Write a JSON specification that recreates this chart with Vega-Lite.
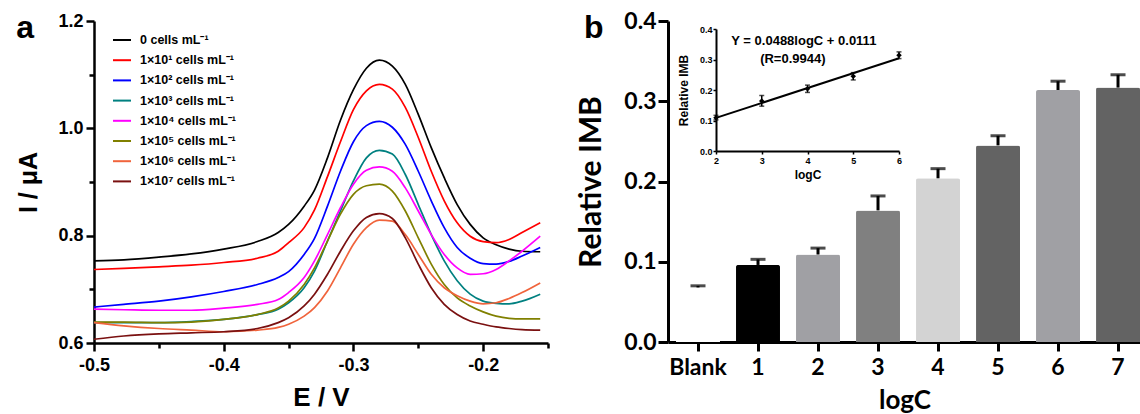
{
"$schema": "https://vega.github.io/schema/vega-lite/v6.json",
"background": "white",
"padding": {"left": 16, "top": 10, "right": 0, "bottom": 0},
"autosize": {"type": "pad"},
"bounds": "flush",
"spacing": 120,
"config": {
  "view": {"stroke": null},
  "font": "Liberation Sans",
  "axis": {"grid": false, "domain": true, "ticks": true, "domainColor": "#000000", "tickColor": "#000000", "labelColor": "#000000", "titleColor": "#000000", "labelFontWeight": "bold", "titleFontWeight": "bold", "labelFont": "Liberation Sans", "titleFont": "Liberation Sans", "labelFlush": false, "labelOverlap": false}
},
"resolve": {"scale": {"color": "independent"}, "legend": {"color": "independent"}},
"datasets": {
  "cv": [
{"k":"0","E":-0.5,"I":0.753},{"k":"0","E":-0.477,"I":0.755},{"k":"0","E":-0.45,"I":0.76},{"k":"0","E":-0.425,"I":0.766},{"k":"0","E":-0.4,"I":0.775},{"k":"0","E":-0.374,"I":0.789},{"k":"0","E":-0.358,"I":0.806},{"k":"0","E":-0.35,"I":0.821},{"k":"0","E":-0.338,"I":0.855},{"k":"0","E":-0.33,"I":0.885},{"k":"0","E":-0.32,"I":0.945},{"k":"0","E":-0.31,"I":1.015},{"k":"0","E":-0.3,"I":1.072},{"k":"0","E":-0.29,"I":1.112},{"k":"0","E":-0.28,"I":1.127},{"k":"0","E":-0.27,"I":1.116},{"k":"0","E":-0.26,"I":1.082},{"k":"0","E":-0.25,"I":1.026},{"k":"0","E":-0.24,"I":0.964},{"k":"0","E":-0.23,"I":0.908},{"k":"0","E":-0.22,"I":0.858},{"k":"0","E":-0.21,"I":0.821},{"k":"0","E":-0.2,"I":0.796},{"k":"0","E":-0.19,"I":0.783},{"k":"0","E":-0.18,"I":0.775},{"k":"0","E":-0.17,"I":0.771},{"k":"0","E":-0.156,"I":0.77},
{"k":"1","E":-0.5,"I":0.737},{"k":"1","E":-0.477,"I":0.739},{"k":"1","E":-0.45,"I":0.742},{"k":"1","E":-0.425,"I":0.745},{"k":"1","E":-0.4,"I":0.75},{"k":"1","E":-0.374,"I":0.758},{"k":"1","E":-0.358,"I":0.771},{"k":"1","E":-0.35,"I":0.787},{"k":"1","E":-0.338,"I":0.815},{"k":"1","E":-0.33,"I":0.848},{"k":"1","E":-0.32,"I":0.91},{"k":"1","E":-0.31,"I":0.975},{"k":"1","E":-0.3,"I":1.035},{"k":"1","E":-0.29,"I":1.07},{"k":"1","E":-0.28,"I":1.082},{"k":"1","E":-0.27,"I":1.073},{"k":"1","E":-0.26,"I":1.039},{"k":"1","E":-0.25,"I":0.983},{"k":"1","E":-0.24,"I":0.92},{"k":"1","E":-0.23,"I":0.865},{"k":"1","E":-0.22,"I":0.824},{"k":"1","E":-0.21,"I":0.799},{"k":"1","E":-0.2,"I":0.789},{"k":"1","E":-0.19,"I":0.787},{"k":"1","E":-0.18,"I":0.793},{"k":"1","E":-0.17,"I":0.806},{"k":"1","E":-0.156,"I":0.824},
{"k":"2","E":-0.5,"I":0.667},{"k":"2","E":-0.477,"I":0.672},{"k":"2","E":-0.45,"I":0.678},{"k":"2","E":-0.425,"I":0.686},{"k":"2","E":-0.4,"I":0.696},{"k":"2","E":-0.374,"I":0.709},{"k":"2","E":-0.358,"I":0.722},{"k":"2","E":-0.35,"I":0.733},{"k":"2","E":-0.338,"I":0.765},{"k":"2","E":-0.33,"I":0.795},{"k":"2","E":-0.32,"I":0.855},{"k":"2","E":-0.31,"I":0.92},{"k":"2","E":-0.3,"I":0.975},{"k":"2","E":-0.29,"I":1.005},{"k":"2","E":-0.28,"I":1.013},{"k":"2","E":-0.27,"I":1.002},{"k":"2","E":-0.26,"I":0.97},{"k":"2","E":-0.25,"I":0.92},{"k":"2","E":-0.24,"I":0.865},{"k":"2","E":-0.23,"I":0.815},{"k":"2","E":-0.22,"I":0.778},{"k":"2","E":-0.21,"I":0.758},{"k":"2","E":-0.2,"I":0.748},{"k":"2","E":-0.19,"I":0.747},{"k":"2","E":-0.18,"I":0.752},{"k":"2","E":-0.17,"I":0.762},{"k":"2","E":-0.156,"I":0.778},
{"k":"3","E":-0.5,"I":0.638},{"k":"3","E":-0.477,"I":0.638},{"k":"3","E":-0.45,"I":0.638},{"k":"3","E":-0.425,"I":0.64},{"k":"3","E":-0.4,"I":0.644},{"k":"3","E":-0.374,"I":0.653},{"k":"3","E":-0.358,"I":0.663},{"k":"3","E":-0.35,"I":0.675},{"k":"3","E":-0.338,"I":0.703},{"k":"3","E":-0.33,"I":0.734},{"k":"3","E":-0.32,"I":0.79},{"k":"3","E":-0.31,"I":0.846},{"k":"3","E":-0.3,"I":0.902},{"k":"3","E":-0.29,"I":0.945},{"k":"3","E":-0.28,"I":0.959},{"k":"3","E":-0.27,"I":0.952},{"k":"3","E":-0.26,"I":0.914},{"k":"3","E":-0.25,"I":0.858},{"k":"3","E":-0.24,"I":0.802},{"k":"3","E":-0.23,"I":0.753},{"k":"3","E":-0.22,"I":0.716},{"k":"3","E":-0.21,"I":0.691},{"k":"3","E":-0.2,"I":0.678},{"k":"3","E":-0.19,"I":0.674},{"k":"3","E":-0.18,"I":0.673},{"k":"3","E":-0.17,"I":0.678},{"k":"3","E":-0.156,"I":0.691},
{"k":"4","E":-0.5,"I":0.663},{"k":"4","E":-0.477,"I":0.662},{"k":"4","E":-0.45,"I":0.661},{"k":"4","E":-0.425,"I":0.661},{"k":"4","E":-0.4,"I":0.665},{"k":"4","E":-0.374,"I":0.672},{"k":"4","E":-0.358,"I":0.681},{"k":"4","E":-0.35,"I":0.694},{"k":"4","E":-0.338,"I":0.722},{"k":"4","E":-0.33,"I":0.753},{"k":"4","E":-0.32,"I":0.802},{"k":"4","E":-0.31,"I":0.852},{"k":"4","E":-0.3,"I":0.896},{"k":"4","E":-0.29,"I":0.922},{"k":"4","E":-0.28,"I":0.928},{"k":"4","E":-0.27,"I":0.92},{"k":"4","E":-0.26,"I":0.889},{"k":"4","E":-0.25,"I":0.846},{"k":"4","E":-0.24,"I":0.802},{"k":"4","E":-0.23,"I":0.765},{"k":"4","E":-0.22,"I":0.74},{"k":"4","E":-0.21,"I":0.728},{"k":"4","E":-0.2,"I":0.729},{"k":"4","E":-0.19,"I":0.737},{"k":"4","E":-0.18,"I":0.753},{"k":"4","E":-0.17,"I":0.771},{"k":"4","E":-0.156,"I":0.799},
{"k":"5","E":-0.5,"I":0.639},{"k":"5","E":-0.477,"I":0.639},{"k":"5","E":-0.45,"I":0.638},{"k":"5","E":-0.425,"I":0.639},{"k":"5","E":-0.4,"I":0.644},{"k":"5","E":-0.374,"I":0.653},{"k":"5","E":-0.358,"I":0.665},{"k":"5","E":-0.35,"I":0.678},{"k":"5","E":-0.338,"I":0.709},{"k":"5","E":-0.33,"I":0.74},{"k":"5","E":-0.32,"I":0.79},{"k":"5","E":-0.31,"I":0.84},{"k":"5","E":-0.3,"I":0.877},{"k":"5","E":-0.29,"I":0.893},{"k":"5","E":-0.28,"I":0.896},{"k":"5","E":-0.27,"I":0.883},{"k":"5","E":-0.26,"I":0.846},{"k":"5","E":-0.25,"I":0.796},{"k":"5","E":-0.24,"I":0.747},{"k":"5","E":-0.23,"I":0.709},{"k":"5","E":-0.22,"I":0.684},{"k":"5","E":-0.21,"I":0.669},{"k":"5","E":-0.2,"I":0.658},{"k":"5","E":-0.19,"I":0.65},{"k":"5","E":-0.18,"I":0.646},{"k":"5","E":-0.17,"I":0.645},{"k":"5","E":-0.156,"I":0.645},
{"k":"6","E":-0.5,"I":0.638},{"k":"6","E":-0.477,"I":0.632},{"k":"6","E":-0.45,"I":0.627},{"k":"6","E":-0.425,"I":0.624},{"k":"6","E":-0.4,"I":0.621},{"k":"6","E":-0.374,"I":0.624},{"k":"6","E":-0.358,"I":0.629},{"k":"6","E":-0.35,"I":0.635},{"k":"6","E":-0.338,"I":0.65},{"k":"6","E":-0.33,"I":0.666},{"k":"6","E":-0.32,"I":0.697},{"k":"6","E":-0.31,"I":0.74},{"k":"6","E":-0.3,"I":0.784},{"k":"6","E":-0.29,"I":0.815},{"k":"6","E":-0.28,"I":0.829},{"k":"6","E":-0.27,"I":0.827},{"k":"6","E":-0.26,"I":0.802},{"k":"6","E":-0.25,"I":0.765},{"k":"6","E":-0.24,"I":0.728},{"k":"6","E":-0.23,"I":0.703},{"k":"6","E":-0.22,"I":0.688},{"k":"6","E":-0.21,"I":0.678},{"k":"6","E":-0.2,"I":0.673},{"k":"6","E":-0.19,"I":0.675},{"k":"6","E":-0.18,"I":0.683},{"k":"6","E":-0.17,"I":0.694},{"k":"6","E":-0.156,"I":0.712},
{"k":"7","E":-0.5,"I":0.607},{"k":"7","E":-0.477,"I":0.613},{"k":"7","E":-0.45,"I":0.617},{"k":"7","E":-0.425,"I":0.619},{"k":"7","E":-0.4,"I":0.621},{"k":"7","E":-0.374,"I":0.627},{"k":"7","E":-0.358,"I":0.638},{"k":"7","E":-0.35,"I":0.647},{"k":"7","E":-0.338,"I":0.669},{"k":"7","E":-0.33,"I":0.691},{"k":"7","E":-0.32,"I":0.728},{"k":"7","E":-0.31,"I":0.771},{"k":"7","E":-0.3,"I":0.809},{"k":"7","E":-0.29,"I":0.834},{"k":"7","E":-0.28,"I":0.841},{"k":"7","E":-0.27,"I":0.832},{"k":"7","E":-0.26,"I":0.796},{"k":"7","E":-0.25,"I":0.747},{"k":"7","E":-0.24,"I":0.703},{"k":"7","E":-0.23,"I":0.672},{"k":"7","E":-0.22,"I":0.653},{"k":"7","E":-0.21,"I":0.641},{"k":"7","E":-0.2,"I":0.635},{"k":"7","E":-0.19,"I":0.63},{"k":"7","E":-0.18,"I":0.627},{"k":"7","E":-0.17,"I":0.625},{"k":"7","E":-0.156,"I":0.624}
  ],
  "bars": [
{"c":"Blank","n":null,"v":0.068,"lo":0.066,"hi":0.07},
{"c":"1","n":1,"v":0.096,"lo":0.089,"hi":0.103},
{"c":"2","n":2,"v":0.109,"lo":0.102,"hi":0.117},
{"c":"3","n":3,"v":0.164,"lo":0.147,"hi":0.182},
{"c":"4","n":4,"v":0.204,"lo":0.192,"hi":0.216},
{"c":"5","n":5,"v":0.245,"lo":0.233,"hi":0.257},
{"c":"6","n":6,"v":0.314,"lo":0.303,"hi":0.325},
{"c":"7","n":7,"v":0.317,"lo":0.301,"hi":0.333}
  ],
  "fit": [{"x":2,"y":0.1087},{"x":6,"y":0.3039}]
},
"hconcat": [
{
  "width": 454, "height": 322,
  "data": {"name": "cv"},
  "layer": [
    {
      "mark": {"type": "line", "strokeWidth": 1.7, "interpolate": "monotone"},
      "encoding": {
        "x": {"field": "E", "type": "quantitative", "scale": {"domain": [-0.5, -0.15], "nice": false, "zero": false},
              "axis": {"orient": "bottom", "domain": true, "ticks": true, "domainColor": "#000000", "tickColor": "#000000", "values": [-0.5, -0.4, -0.3, -0.2], "labelExpr": "replace(format(datum.value, '.1f'), '\u2212', '-')", "title": "E / V", "titleFontSize": 26, "labelFontSize": 18, "tickSize": 8, "tickWidth": 2.5, "domainWidth": 2.5, "labelPadding": 5, "titlePadding": 10}},
        "y": {"field": "I", "type": "quantitative", "scale": {"domain": [0.6, 1.2], "nice": false, "zero": false},
              "axis": {"orient": "left", "domain": true, "ticks": true, "domainColor": "#000000", "tickColor": "#000000", "values": [0.6, 0.8, 1.0, 1.2], "format": ".1f", "title": "I / μA", "titleFontSize": 25, "labelFontSize": 18, "tickSize": 8, "tickWidth": 2.5, "domainWidth": 2.5, "labelPadding": 3, "titlePadding": 16}},
        "color": {"field": "k", "type": "nominal",
                  "scale": {"domain": ["0","1","2","3","4","5","6","7"], "range": ["#000000","#ff0000","#0000ff","#008080","#ff00ff","#808000","#f0643c","#7a1010"]},
                  "legend": {"title": null, "orient": "none", "legendX": 18, "legendY": 9, "symbolType": "stroke", "symbolSize": 324, "symbolStrokeWidth": 2, "labelFontSize": 12.5, "labelFontWeight": "bold", "labelColor": "black", "labelFont": "Liberation Sans", "rowPadding": 3.2, "labelOffset": 8, "padding": 0,
                             "labelExpr": "['0 cells mL⁻¹','1×10¹ cells mL⁻¹','1×10² cells mL⁻¹','1×10³ cells mL⁻¹','1×10⁴ cells mL⁻¹','1×10⁵ cells mL⁻¹','1×10⁶ cells mL⁻¹','1×10⁷ cells mL⁻¹'][toNumber(datum.value)]"}}
      }
    },
    {
      "mark": {"type": "line", "strokeOpacity": 0},
      "encoding": {
        "x": {"field": "E", "type": "quantitative", "axis": {"orient": "bottom", "values": [-0.45, -0.35, -0.25, -0.15], "labels": false, "domain": false, "ticks": true, "tickColor": "#000000", "title": null, "tickSize": 5, "tickWidth": 2.5}},
        "y": {"field": "I", "type": "quantitative", "axis": {"orient": "left", "values": [0.7, 0.9, 1.1], "labels": false, "domain": false, "ticks": true, "tickColor": "#000000", "title": null, "tickSize": 5, "tickWidth": 2.5}},
        "detail": {"field": "k"}
      }
    },
    {
      "data": {"values": [{}]},
      "mark": {"type": "text", "fontSize": 32, "fontWeight": "bold", "font": "Liberation Sans", "color": "black", "align": "left", "baseline": "alphabetic", "clip": false},
      "encoding": {
        "x": {"datum": -0.56, "type": "quantitative", "axis": null},
        "y": {"datum": 1.168, "type": "quantitative", "axis": null},
        "text": {"value": "a"}
      }
    }
  ],
  "resolve": {"axis": {"x": "independent", "y": "independent"}}
},
{
  "width": 473, "height": 321,
  "layer": [
    {
      "data": {"name": "bars"},
      "encoding": {
        "x": {"field": "c", "type": "nominal", "sort": null, "title": "logC",
              "scale": {"paddingInner": 0.267, "paddingOuter": 0.075, "align": 0.89},
              "axis": {"domain": true, "ticks": true, "domainColor": "#000000", "tickColor": "#000000", "labelAngle": 0, "labelFontSize": 23, "labelFont": "Lato", "titleFont": "Lato", "titleFontSize": 26, "tickSize": 9, "tickWidth": 3, "domainWidth": 3, "labelPadding": 5, "titlePadding": 8}}
      },
      "layer": [
        {
          "mark": {"type": "bar", "cornerRadiusTopLeft": 2, "cornerRadiusTopRight": 2},
          "encoding": {
            "y": {"field": "v", "type": "quantitative", "title": "Relative IMB", "scale": {"domain": [0, 0.4], "nice": false},
                  "axis": {"domain": true, "ticks": true, "domainColor": "#000000", "tickColor": "#000000", "values": [0, 0.1, 0.2, 0.3, 0.4], "format": ".1f", "labelFontSize": 23, "labelFont": "Lato", "titleFont": "Lato", "titleFontSize": 30, "tickSize": 10, "tickWidth": 3, "domainWidth": 3, "labelPadding": 2, "titlePadding": 17}},
            "color": {"field": "c", "type": "nominal", "legend": null,
                      "scale": {"domain": ["Blank","1","2","3","4","5","6","7"], "range": ["#ffffff","#000000","#a0a0a4","#808080","#d3d3d3","#636363","#a0a0a4","#636363"]}}
          }
        },
        {
          "mark": {"type": "rule", "strokeWidth": 3, "color": "black"},
          "encoding": {
            "y": {"field": "v", "type": "quantitative", "title": "Relative IMB"},
            "y2": {"field": "hi"}
          }
        },
        {
          "mark": {"type": "tick", "size": 15, "thickness": 3, "color": "black"},
          "encoding": {
            "y": {"field": "hi", "type": "quantitative", "title": "Relative IMB"}
          }
        }
      ]
    },
    {
      "layer": [
        {
          "data": {"name": "bars"},
          "transform": [{"filter": {"field": "n", "range": [2, 6]}}],
          "mark": {"type": "rule", "strokeWidth": 1.5, "color": "black"},
          "encoding": {
            "x": {"field": "n", "type": "quantitative", "title": "logC", "scale": {"domain": [2, 6], "range": [48, 231], "nice": false, "zero": false},
                  "axis": {"orient": "bottom", "offset": -191, "domain": true, "ticks": true, "domainColor": "#000000", "tickColor": "#000000", "values": [2, 3, 4, 5, 6], "format": "d", "labelFontSize": 9, "titleFontSize": 12, "tickSize": 3, "tickWidth": 1.5, "domainWidth": 2, "labelPadding": 2, "titlePadding": 4}},
            "y": {"field": "lo", "type": "quantitative", "title": "Relative IMB", "scale": {"domain": [0, 0.4], "range": [130, 8], "nice": false},
                  "axis": {"orient": "left", "offset": -48, "domain": true, "ticks": true, "domainColor": "#000000", "tickColor": "#000000", "values": [0, 0.1, 0.2, 0.3, 0.4], "format": ".1f", "labelFontSize": 9, "titleFontSize": 12, "tickSize": 3, "tickWidth": 1.5, "domainWidth": 2, "labelPadding": 1, "titlePadding": 9}},
            "y2": {"field": "hi"}
          }
        },
        {
          "data": {"name": "bars"},
          "transform": [{"filter": {"field": "n", "range": [2, 6]}}],
          "mark": {"type": "tick", "orient": "horizontal", "size": 5, "thickness": 1.5, "color": "black"},
          "encoding": {
            "x": {"field": "n", "type": "quantitative", "title": "logC"},
            "y": {"field": "hi", "type": "quantitative", "title": "Relative IMB"}
          }
        },
        {
          "data": {"name": "bars"},
          "transform": [{"filter": {"field": "n", "range": [2, 6]}}],
          "mark": {"type": "tick", "orient": "horizontal", "size": 5, "thickness": 1.5, "color": "black"},
          "encoding": {
            "x": {"field": "n", "type": "quantitative", "title": "logC"},
            "y": {"field": "lo", "type": "quantitative", "title": "Relative IMB"}
          }
        },
        {
          "data": {"name": "bars"},
          "transform": [{"filter": {"field": "n", "range": [2, 6]}}],
          "mark": {"type": "point", "filled": true, "shape": "diamond", "size": 30, "color": "black", "opacity": 1},
          "encoding": {
            "x": {"field": "n", "type": "quantitative", "title": "logC"},
            "y": {"field": "v", "type": "quantitative", "title": "Relative IMB"}
          }
        },
        {
          "data": {"name": "fit"},
          "mark": {"type": "line", "strokeWidth": 2, "color": "black"},
          "encoding": {
            "x": {"field": "x", "type": "quantitative", "title": "logC"},
            "y": {"field": "y", "type": "quantitative", "title": "Relative IMB"}
          }
        },
        {
          "data": {"values": [{}]},
          "mark": {"type": "text", "fontSize": 13, "fontWeight": "bold", "font": "Liberation Sans", "color": "black", "align": "center", "baseline": "middle"},
          "encoding": {
            "x": {"datum": 3.92, "type": "quantitative"},
            "y": {"datum": 0.361, "type": "quantitative"},
            "text": {"value": "Y = 0.0488logC + 0.0111"}
          }
        },
        {
          "data": {"values": [{}]},
          "mark": {"type": "text", "fontSize": 13, "fontWeight": "bold", "font": "Liberation Sans", "color": "black", "align": "center", "baseline": "middle"},
          "encoding": {
            "x": {"datum": 3.68, "type": "quantitative"},
            "y": {"datum": 0.302, "type": "quantitative"},
            "text": {"value": "(R=0.9944)"}
          }
        },
        {
          "data": {"values": [{}]},
          "mark": {"type": "text", "fontSize": 32, "fontWeight": "bold", "font": "Liberation Sans", "color": "black", "align": "left", "baseline": "alphabetic", "clip": false},
          "encoding": {
            "x": {"datum": -0.885, "type": "quantitative"},
            "y": {"datum": 0.3705, "type": "quantitative"},
            "text": {"value": "b"}
          }
        }
      ]
    }
  ],
  "resolve": {"scale": {"x": "independent", "y": "independent"}, "axis": {"x": "independent", "y": "independent"}}
}
]
}
